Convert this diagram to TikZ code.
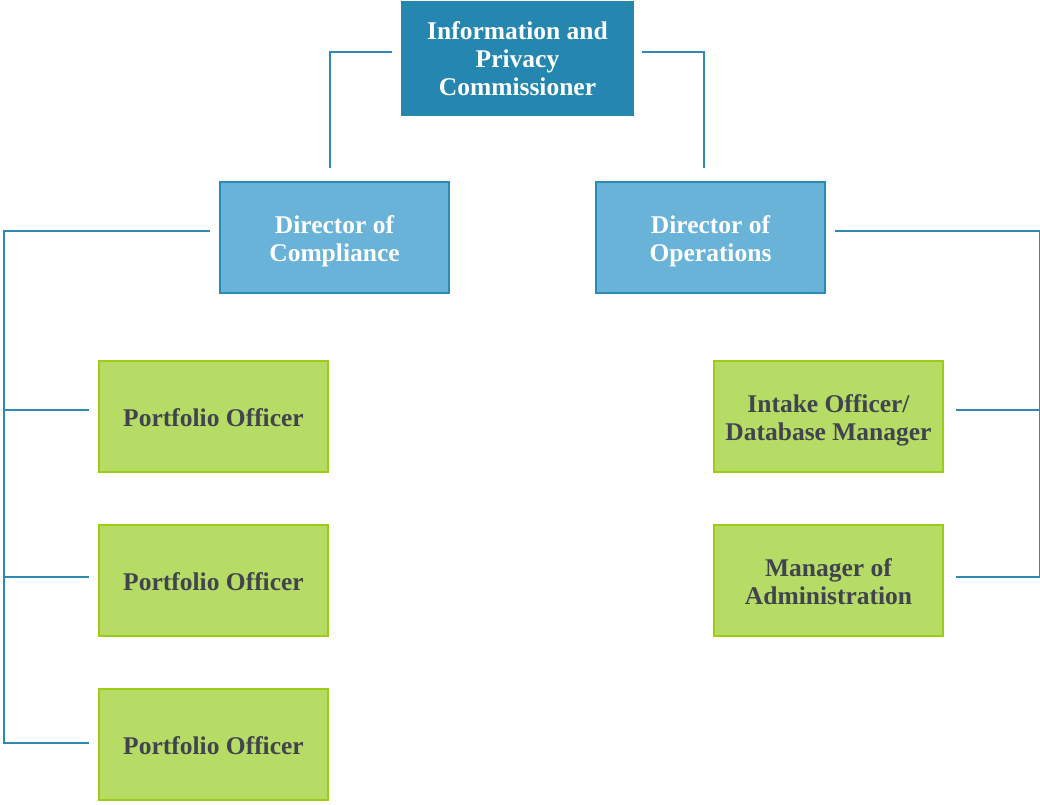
\documentclass[tikz,border=0pt]{standalone}
\usepackage{fontspec}
\setmainfont{Liberation Serif}
\definecolor{topblue}{HTML}{2587AF}
\definecolor{dirblue}{HTML}{68B3D7}
\definecolor{dirline}{HTML}{2C8BB5}
\definecolor{staffgreen}{HTML}{B6DC65}
\definecolor{staffline}{HTML}{9CCC14}
\definecolor{stafftext}{HTML}{41444F}
\definecolor{connblue}{HTML}{2E89B3}
% centred lines of a box label, with extra room above so they sit a little low
\newcommand{\boxlines}[1]{\raisebox{0pt}[\dimexpr\height+9pt\relax][\depth]{\begin{tabular}{@{}c@{}}#1\end{tabular}}}
\begin{document}
\begin{tikzpicture}[x=1pt,y=-1pt,
  box/.style={rectangle, minimum width=229pt, minimum height=111pt, align=center,
    font=\fontsize{25.5}{28}\selectfont\bfseries, inner sep=0pt, line width=2.5pt},
  topbox/.style={box, fill=topblue, text=white, minimum width=233pt, minimum height=115pt},
  dirbox/.style={box, fill=dirblue, draw=dirline, text=white},
  staffbox/.style={box, fill=staffgreen, draw=staffline, text=stafftext},
  conn/.style={draw=connblue, line width=2.2pt}]
\useasboundingbox (0,0) rectangle (1040,804);

% boxes
\node[topbox] (top) at (517.5,58.5) {Information and\\Privacy\\Commissioner};
\node[dirbox] (dc) at (334.5,237.5) {\boxlines{Director of\\Compliance}};
\node[dirbox] (do) at (710.5,237.5) {\boxlines{Director of\\Operations}};
\node[staffbox] (p1) at (213.5,416.5) {\boxlines{Portfolio Officer}};
\node[staffbox] (p2) at (213.5,580.5) {\boxlines{Portfolio Officer}};
\node[staffbox] (p3) at (213.5,744.5) {\boxlines{Portfolio Officer}};
\node[staffbox] (io) at (828.5,416.5) {\boxlines{Intake Officer/\\Database Manager}};
\node[staffbox] (ma) at (828.5,580.5) {\boxlines{Manager of\\Administration}};

% commissioner to directors
\draw[conn] ([xshift=-8pt,yshift=6.5pt]top.west) -| ([xshift=-4.5pt,yshift=13pt]dc.north);
\draw[conn] ([xshift=7pt,yshift=6.5pt]top.east) -| ([xshift=-6.5pt,yshift=13pt]do.north);

% compliance branch
\draw[conn] ([xshift=-9pt,yshift=6.5pt]dc.west) -| ([xshift=-94pt,yshift=1.5pt]p3.west)
  -- ([xshift=-9pt,yshift=1.5pt]p3.west);
\draw[conn] ([xshift=-94pt,yshift=6.5pt]p1.west) -- ([xshift=-9pt,yshift=6.5pt]p1.west);
\draw[conn] ([xshift=-94pt,yshift=3.5pt]p2.west) -- ([xshift=-9pt,yshift=3.5pt]p2.west);

% operations branch
\draw[conn] ([xshift=9pt,yshift=6.5pt]do.east) -| ([xshift=96pt,yshift=3.5pt]ma.east)
  -- ([xshift=12pt,yshift=3.5pt]ma.east);
\draw[conn] ([xshift=96pt,yshift=6.5pt]io.east) -- ([xshift=12pt,yshift=6.5pt]io.east);
\end{tikzpicture}
\end{document}
